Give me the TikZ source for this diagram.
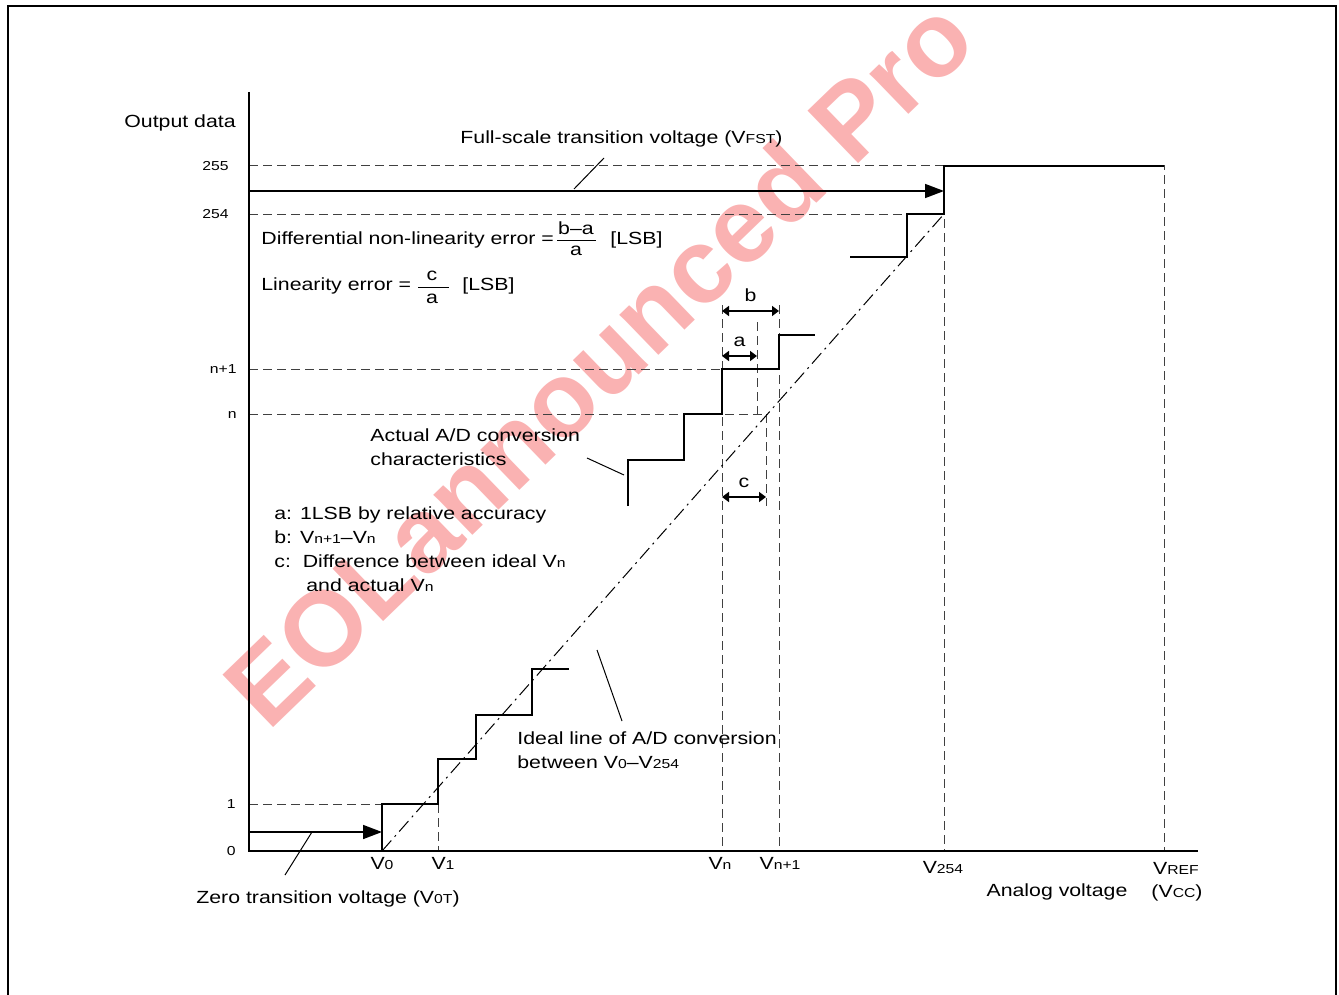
\documentclass[tikz,border=0pt]{standalone}
\usepackage{fontspec}
\setmainfont{Liberation Sans}[FakeStretch=1.21]
\newfontfamily\stampfont{Liberation Sans}
\usepackage{amsmath}
\usetikzlibrary{arrows.meta}
\newcommand{\sub}[1]{{\fontsize{6.5}{7}\selectfont #1}}
\definecolor{wmred}{RGB}{250,178,178}
\tikzset{   frame/.style = {line width=1.2pt},
            axis/.style = {line width=1.3pt},
            stair/.style = {line width=1pt},
            guide/.style = {black!75, line width=0.5pt, dash pattern=on 4.5pt off 2.5pt},
            ideal/.style = {line width=0.5pt, dash pattern=on 7pt off 2.5pt on 1pt off 2.5pt},
            leader/.style = {line width=0.5pt},
            bigarrow/.style = {line width=0.8pt, -{Triangle[length=9.5pt,width=7pt]}},
            dim/.style = {line width=0.9pt, {Triangle[length=3.5pt,width=5pt]}-{Triangle[length=3.5pt,width=5pt]}},
            txt/.style = {font=\fontsize{8.8}{10.5}\selectfont, inner sep=0pt},
            tick/.style = {font=\fontsize{6.5}{7}\selectfont, inner sep=0pt, anchor=base east},
            stamp/.style = {font=\stampfont\fontsize{53}{53}\selectfont\bfseries, text=wmred, inner sep=0pt}}

\begin{document}
\begin{tikzpicture}[x=0.5pt, y=-0.5pt]
\path[use as bounding box] (0,0) rectangle (1339,995);

% watermark
\node[stamp, rotate=44] (wm) at (598,362) {EOLannounced Pro};

% frame
\draw[frame] (8,995) -- (8,6) -- (1336,6) -- (1336,995);

% key points
\coordinate (O) at (249,851);
\coordinate (V0) at (382,851);
\coordinate (V254) at (944,214);

% dashed guides
\draw[guide] (249,166) -- (1164,166) -- (1164,851);
\draw[guide] (249,214) -- (944,214) -- (944,851);
\draw[guide] (249,369) -- (722,369);
\draw[guide] (249,414) -- (767,414);
\draw[guide] (249,804) -- (382,804);
\draw[guide] (438,804) -- (438,851);
\draw[guide] (722,305) -- (722,851);
\draw[guide] (779,305) -- (779,851);
\draw[guide] (757,322) -- (757,414);
\draw[guide] (766,414) -- (766,506);

% ideal line
\draw[ideal] (V0) -- (V254);

% axes
\draw[axis] (249,92) -- (O) -- (1198,851);

% actual characteristics
\draw[stair] (V0) |- (438,804) |- (476,759) |- (532,715) |- (569,669);
\draw[stair] (628,506) |- (684,460) |- (722,414) |- (779,369) |- (815,335);
\draw[stair] (850,257) -| (907,214) -| (944,166) -- (1164,166);

% transition arrows
\draw[bigarrow] (249,832) -- (V0 |- 0,832);
\draw[bigarrow] (249,191) -- (V254 |- 0,191);

% a, b, c
\draw[dim] (722,311) -- node[txt, above=4pt] (lb) {b} (779,311);
\draw[dim] (722,356) -- node[txt, above=4pt] (la) {a} (757,356);
\draw[dim] (722,497) -- node[txt, above=4pt] (lc) {c} (766,497);

% leaders
\draw[leader] (604,158) -- (574,189);
\draw[leader] (312,832) -- (285,875);
\draw[leader] (587,458) -- (624,475);
\draw[leader] (597,650) -- (622,721);

% axis labels
\node[txt, anchor=base] (ylab) at (180,127) {Output data};
\node[tick] (t255) at (229,170) {255};
\node[tick] (t254) at (229,218) {254};
\node[tick] (tn1) at (237,373) {n+1};
\node[tick] (tn) at (237,418) {n};
\node[tick] (t1) at (236,808) {1};
\node[tick] (t0) at (236,855) {0};

\node[txt, anchor=base] (x0) at (382,869) {V\sub{0}};
\node[txt, anchor=base] (x1) at (443,869) {V\sub{1}};
\node[txt, anchor=base] (xn) at (720,869) {V\sub{n}};
\node[txt, anchor=base] (xn1) at (780,869) {V\sub{n+1}};
\node[txt, anchor=base] (x254) at (943,873) {V\sub{254}};
\node[txt, anchor=base] (xref) at (1176,874) {V\sub{REF}};
\node[txt, anchor=base] (xcc) at (1177,897) {(V\sub{CC})};
\node[txt, anchor=base] (xlab) at (1057,896) {Analog voltage};

% annotations
\node[txt, anchor=base west] (fst) at (460,144) {Full-scale transition voltage (V\sub{FST})};
\node[txt, anchor=base] (zt) at (328,903) {Zero transition voltage (V\sub{0T})};

\node[txt, anchor=base west] (dnl) at (261,244) {Differential non-linearity error =};
\node[txt] (dnlnum) at (576,228) {b--a};
\node[txt] (dnlden) at (576,251) {a};
\draw[leader] (557,240) -- (596,240);
\node[txt, anchor=base west] (dnlu) at (610,244) {[LSB]};

\node[txt, anchor=base west] (lin) at (261,290) {Linearity error =};
\node[txt] (linnum) at (432,276) {c};
\node[txt] (linden) at (432,299) {a};
\draw[leader] (418,287) -- (449,287);
\node[txt, anchor=base west] (linu) at (462,290) {[LSB]};

\node[txt, anchor=base west] (act1) at (370,441) {Actual A/D conversion};
\node[txt, anchor=base west] (act2) at (370,465) {characteristics};

\node[txt, anchor=base west] (na) at (274,519) {a: 1LSB by relative accuracy};
\node[txt, anchor=base west] (nb) at (274,543) {b: V\sub{n+1}--V\sub{n}};
\node[txt, anchor=base west] (nc) at (274,567) {c:\ \ Difference between ideal V\sub{n}};
\node[txt, anchor=base west] (nc2) at (306,591) {and actual V\sub{n}};

\node[txt, anchor=base west] (id1) at (517,744) {Ideal line of A/D conversion};
\node[txt, anchor=base west] (id2) at (517,768) {between V\sub{0}--V\sub{254}};
\end{tikzpicture}
\end{document}
